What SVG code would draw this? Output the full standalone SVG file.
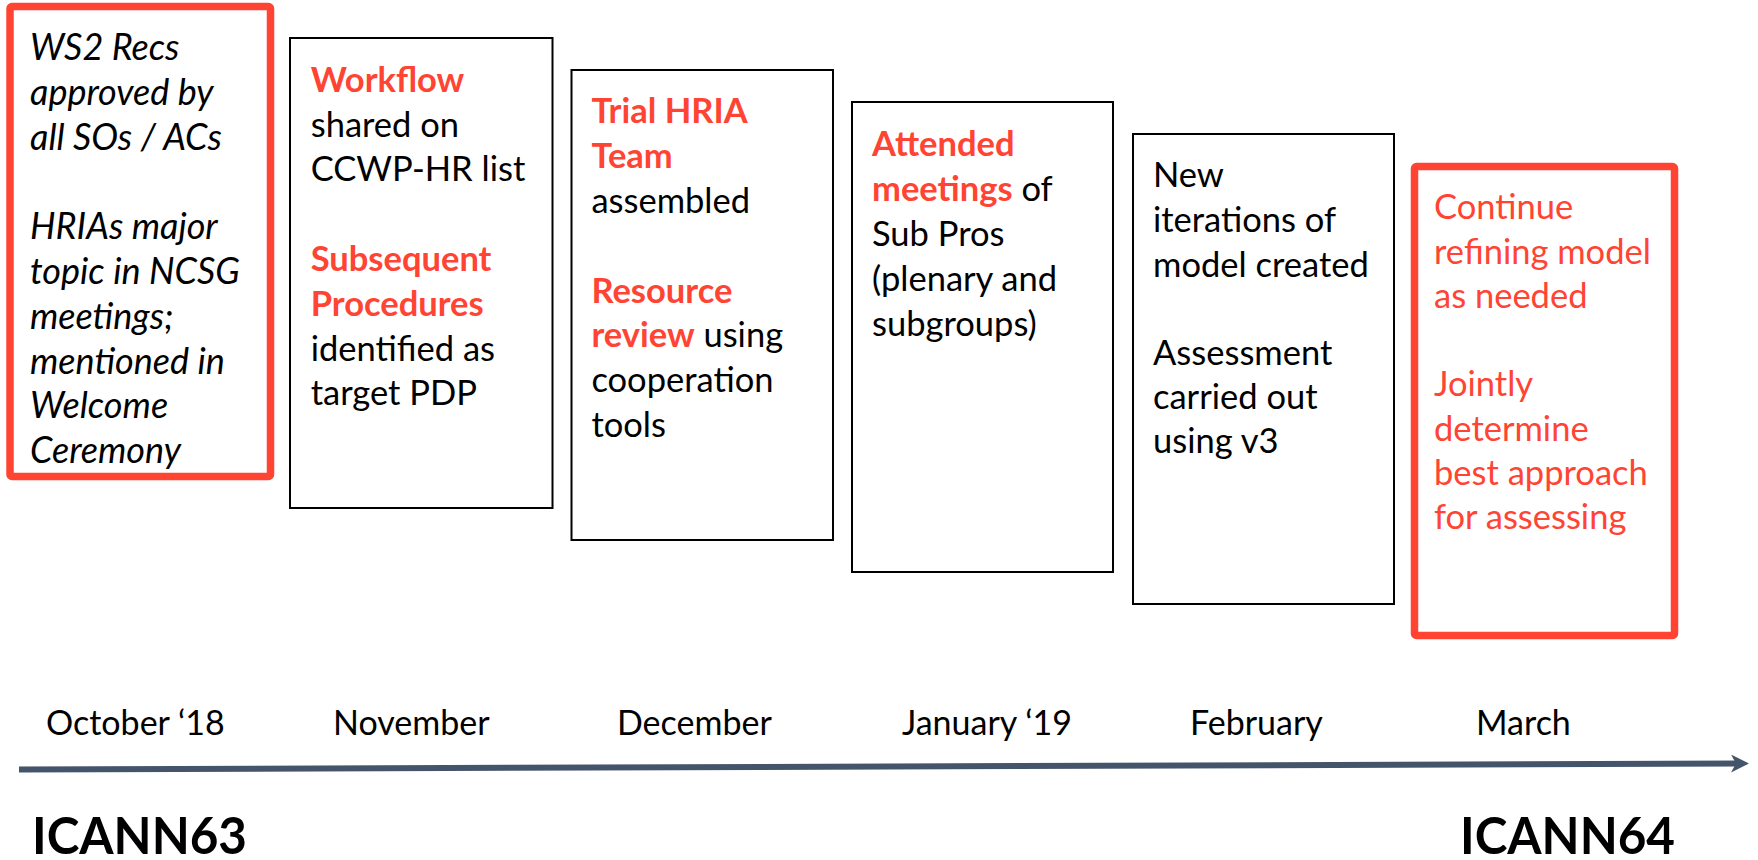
<svg xmlns="http://www.w3.org/2000/svg" width="1758" height="860" viewBox="0 0 1758 860">
<style>
.t{font-family:Lato,"Open Sans","Liberation Sans",sans-serif;font-size:34.5px;fill:#000}
.it{font-style:italic;font-size:36px}
.r{fill:#FF4433}
.b{font-weight:bold}
.box{fill:#fff;stroke:#000;stroke-width:2}
.rbox{fill:#fff;stroke:#FF4433;stroke-width:7.5;stroke-linejoin:round}
.m{font-family:Lato,"Open Sans","Liberation Sans",sans-serif;font-size:34px;fill:#000}
.big{font-family:Lato,"Open Sans","Liberation Sans",sans-serif;font-size:51px;font-weight:bold;fill:#000}
</style>
<defs>
<marker id="ah" markerUnits="userSpaceOnUse" markerWidth="20" markerHeight="20" refX="9" refY="9" orient="auto">
<path d="M0,0 L18,9 L0,18 L5,9 z" fill="#44546A"/>
</marker>
</defs>
<rect width="1758" height="860" fill="#fff"/>
<g id="connectors">
<line x1="19" y1="769.5" x2="1740" y2="763.5" stroke="#44546A" stroke-width="6" marker-end="url(#ah)"/>
</g>
<g id="oct">
<rect class="rbox" x="10" y="6.5" width="260.5" height="470" rx="2"/>
<text class="t it" x="30"><tspan x="30" y="60">WS2 Recs</tspan><tspan x="30" y="104.8">approved by</tspan><tspan x="30" y="149.6">all SOs / ACs</tspan><tspan x="30" y="239.2">HRIAs major</tspan><tspan x="30" y="284">topic in NCSG</tspan><tspan x="30" y="328.8">meetings;</tspan><tspan x="30" y="373.6">mentioned in</tspan><tspan x="30" y="418.4">Welcome</tspan><tspan x="30" y="463.2">Ceremony</tspan></text>
</g>
<g id="nov">
<rect class="box" x="290" y="38" width="262.5" height="470"/>
<text class="t"><tspan x="310.7" y="91.8" class="r b">Workflow</tspan><tspan x="310.7" y="136.6">shared on</tspan><tspan x="310.7" y="181.4">CCWP-HR list</tspan><tspan x="310.7" y="271" class="r b">Subsequent</tspan><tspan x="310.7" y="315.8" class="r b">Procedures</tspan><tspan x="310.7" y="360.6">identified as</tspan><tspan x="310.7" y="405.4">target PDP</tspan></text>
</g>
<g id="dec">
<rect class="box" x="571.5" y="70" width="261.5" height="470"/>
<text class="t"><tspan x="591.4" y="123.4" class="r b">Trial HRIA</tspan><tspan x="591.4" y="168.2" class="r b">Team</tspan><tspan x="591.4" y="213">assembled</tspan><tspan x="591.4" y="302.6" class="r b">Resource</tspan><tspan x="591.4" y="347.4" class="r b">review</tspan><tspan> using</tspan><tspan x="591.4" y="392.2">cooperation</tspan><tspan x="591.4" y="437">tools</tspan></text>
</g>
<g id="jan">
<rect class="box" x="852" y="102" width="261" height="470"/>
<text class="t"><tspan x="872" y="156.4" class="r b">Attended</tspan><tspan x="872" y="201.2" class="r b">meetings</tspan><tspan> of</tspan><tspan x="872" y="246">Sub Pros</tspan><tspan x="872" y="290.8">(plenary and</tspan><tspan x="872" y="335.6">subgroups)</tspan></text>
</g>
<g id="feb">
<rect class="box" x="1133" y="134" width="261" height="470"/>
<text class="t"><tspan x="1153" y="187">New</tspan><tspan x="1153" y="231.5">iterations of</tspan><tspan x="1153" y="276.5">model created</tspan><tspan x="1153" y="365">Assessment</tspan><tspan x="1153" y="408.5">carried out</tspan><tspan x="1153" y="452.5">using v3</tspan></text>
</g>
<g id="mar">
<rect class="rbox" x="1414.5" y="166.5" width="260" height="469" rx="2"/>
<text class="t r"><tspan x="1434" y="219">Continue</tspan><tspan x="1434" y="263.5">refining model</tspan><tspan x="1434" y="308">as needed</tspan><tspan x="1434" y="396">Jointly</tspan><tspan x="1434" y="440.5">determine</tspan><tspan x="1434" y="485">best approach</tspan><tspan x="1434" y="528.5">for assessing</tspan></text>
</g>
<g id="months">
<text class="m" x="46" y="735">October ‘18</text>
<text class="m" x="333" y="735">November</text>
<text class="m" x="617" y="735">December</text>
<text class="m" x="902" y="735">January ‘19</text>
<text class="m" x="1190" y="735">February</text>
<text class="m" x="1476" y="735">March</text>
</g>
<g id="icann63"><text class="big" x="32" y="854" textLength="215" lengthAdjust="spacingAndGlyphs">ICANN63</text></g>
<g id="icann64"><text class="big" x="1460" y="854" textLength="215" lengthAdjust="spacingAndGlyphs">ICANN64</text></g>
</svg>
